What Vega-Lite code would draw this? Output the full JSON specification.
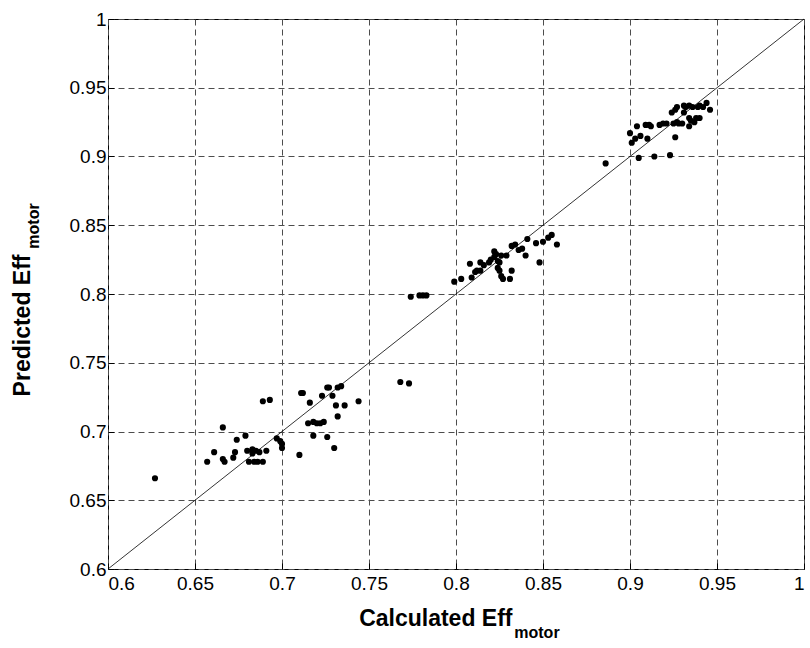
{
  "$schema": "https://vega.github.io/schema/vega-lite/v6.json",
  "autosize": "none",
  "width": 696,
  "height": 550,
  "padding": {"left": 108, "top": 19, "right": 6, "bottom": 79},
  "background": "white",
  "config": {
    "view": {"stroke": "black", "strokeWidth": 1},
    "axis": {
      "grid": true,
      "gridColor": "#4d4d4d",
      "gridDash": [6, 4],
      "gridWidth": 1,
      "gridOpacity": 1,
      "domain": false,
      "ticks": true,
      "tickSize": -6,
      "tickColor": "black",
      "tickWidth": 1,
      "labelFont": "Liberation Sans",
      "labelFontSize": 19,
      "labelColor": "black",
      "titleFont": "Liberation Sans",
      "titleFontSize": 23,
      "titleFontWeight": "bold",
      "titleColor": "black"
    }
  },
  "layer": [
    {
      "data": {"values": [{"calc": 0.6, "pred": 0.6}, {"calc": 1.0, "pred": 1.0}]},
      "mark": {"type": "line", "color": "black", "strokeWidth": 0.8},
      "encoding": {
        "x": {
          "field": "calc",
          "type": "quantitative",
          "scale": {"domain": [0.6, 1], "nice": false, "zero": false},
          "axis": {
            "values": [0.6, 0.65, 0.7, 0.75, 0.8, 0.85, 0.9, 0.95, 1],
            "format": "~g",
            "labelPadding": 11,
            "title": "Calculated Eff",
            "titleAlign": "right",
            "titleBaseline": "middle",
            "titleX": 404,
            "titleY": 49
          }
        },
        "y": {
          "field": "pred",
          "type": "quantitative",
          "scale": {"domain": [0.6, 1], "nice": false, "zero": false},
          "axis": {
            "values": [0.6, 0.65, 0.7, 0.75, 0.8, 0.85, 0.9, 0.95, 1],
            "format": "~g",
            "labelPadding": 8,
            "title": "Predicted Eff",
            "titleAngle": 270,
            "titleAlign": "right",
            "titleBaseline": "middle",
            "titleX": -86,
            "titleY": 235
          }
        }
      }
    },
    {
      "data": {
        "values": [
          {"calc": 0.627, "pred": 0.666}, {"calc": 0.657, "pred": 0.678}, {"calc": 0.661, "pred": 0.685},
          {"calc": 0.666, "pred": 0.703}, {"calc": 0.666, "pred": 0.68}, {"calc": 0.667, "pred": 0.678},
          {"calc": 0.672, "pred": 0.681}, {"calc": 0.673, "pred": 0.685}, {"calc": 0.674, "pred": 0.694},
          {"calc": 0.679, "pred": 0.697}, {"calc": 0.68, "pred": 0.686}, {"calc": 0.683, "pred": 0.687},
          {"calc": 0.685, "pred": 0.686}, {"calc": 0.687, "pred": 0.685}, {"calc": 0.691, "pred": 0.686},
          {"calc": 0.681, "pred": 0.678}, {"calc": 0.684, "pred": 0.678}, {"calc": 0.686, "pred": 0.678},
          {"calc": 0.689, "pred": 0.678}, {"calc": 0.683, "pred": 0.684}, {"calc": 0.689, "pred": 0.722},
          {"calc": 0.693, "pred": 0.723}, {"calc": 0.697, "pred": 0.695}, {"calc": 0.699, "pred": 0.693},
          {"calc": 0.7, "pred": 0.688}, {"calc": 0.7, "pred": 0.691}, {"calc": 0.711, "pred": 0.728},
          {"calc": 0.712, "pred": 0.728}, {"calc": 0.716, "pred": 0.721}, {"calc": 0.723, "pred": 0.726},
          {"calc": 0.726, "pred": 0.732}, {"calc": 0.727, "pred": 0.732}, {"calc": 0.729, "pred": 0.726},
          {"calc": 0.732, "pred": 0.732}, {"calc": 0.734, "pred": 0.733}, {"calc": 0.731, "pred": 0.719},
          {"calc": 0.736, "pred": 0.719}, {"calc": 0.732, "pred": 0.711}, {"calc": 0.744, "pred": 0.722},
          {"calc": 0.715, "pred": 0.706}, {"calc": 0.718, "pred": 0.707}, {"calc": 0.72, "pred": 0.706},
          {"calc": 0.722, "pred": 0.706}, {"calc": 0.724, "pred": 0.707}, {"calc": 0.718, "pred": 0.697},
          {"calc": 0.726, "pred": 0.696}, {"calc": 0.73, "pred": 0.688}, {"calc": 0.71, "pred": 0.683},
          {"calc": 0.768, "pred": 0.736}, {"calc": 0.773, "pred": 0.735}, {"calc": 0.774, "pred": 0.798},
          {"calc": 0.779, "pred": 0.799}, {"calc": 0.781, "pred": 0.799}, {"calc": 0.783, "pred": 0.799},
          {"calc": 0.799, "pred": 0.809}, {"calc": 0.803, "pred": 0.811}, {"calc": 0.809, "pred": 0.812},
          {"calc": 0.808, "pred": 0.822}, {"calc": 0.811, "pred": 0.816}, {"calc": 0.812, "pred": 0.817},
          {"calc": 0.814, "pred": 0.817}, {"calc": 0.814, "pred": 0.823}, {"calc": 0.816, "pred": 0.821},
          {"calc": 0.819, "pred": 0.823}, {"calc": 0.82, "pred": 0.825}, {"calc": 0.822, "pred": 0.827},
          {"calc": 0.824, "pred": 0.824}, {"calc": 0.825, "pred": 0.823}, {"calc": 0.824, "pred": 0.819},
          {"calc": 0.825, "pred": 0.817}, {"calc": 0.826, "pred": 0.813}, {"calc": 0.827, "pred": 0.811},
          {"calc": 0.831, "pred": 0.811}, {"calc": 0.832, "pred": 0.817}, {"calc": 0.822, "pred": 0.831},
          {"calc": 0.823, "pred": 0.829}, {"calc": 0.826, "pred": 0.828}, {"calc": 0.829, "pred": 0.828},
          {"calc": 0.832, "pred": 0.835}, {"calc": 0.834, "pred": 0.836}, {"calc": 0.836, "pred": 0.832},
          {"calc": 0.838, "pred": 0.833}, {"calc": 0.841, "pred": 0.84}, {"calc": 0.84, "pred": 0.828},
          {"calc": 0.846, "pred": 0.837}, {"calc": 0.848, "pred": 0.823}, {"calc": 0.85, "pred": 0.838},
          {"calc": 0.853, "pred": 0.841}, {"calc": 0.855, "pred": 0.843}, {"calc": 0.858, "pred": 0.836},
          {"calc": 0.886, "pred": 0.895}, {"calc": 0.905, "pred": 0.899}, {"calc": 0.914, "pred": 0.9},
          {"calc": 0.923, "pred": 0.901}, {"calc": 0.9, "pred": 0.917}, {"calc": 0.901, "pred": 0.91},
          {"calc": 0.903, "pred": 0.913}, {"calc": 0.906, "pred": 0.915}, {"calc": 0.904, "pred": 0.922},
          {"calc": 0.909, "pred": 0.923}, {"calc": 0.911, "pred": 0.923}, {"calc": 0.912, "pred": 0.922},
          {"calc": 0.91, "pred": 0.913}, {"calc": 0.917, "pred": 0.923}, {"calc": 0.919, "pred": 0.924},
          {"calc": 0.921, "pred": 0.924}, {"calc": 0.925, "pred": 0.924}, {"calc": 0.927, "pred": 0.925},
          {"calc": 0.928, "pred": 0.924}, {"calc": 0.93, "pred": 0.924}, {"calc": 0.926, "pred": 0.914},
          {"calc": 0.924, "pred": 0.932}, {"calc": 0.926, "pred": 0.934}, {"calc": 0.927, "pred": 0.936},
          {"calc": 0.931, "pred": 0.937}, {"calc": 0.932, "pred": 0.936}, {"calc": 0.934, "pred": 0.937},
          {"calc": 0.936, "pred": 0.936}, {"calc": 0.939, "pred": 0.936}, {"calc": 0.94, "pred": 0.937},
          {"calc": 0.942, "pred": 0.936}, {"calc": 0.944, "pred": 0.939}, {"calc": 0.946, "pred": 0.934},
          {"calc": 0.931, "pred": 0.932}, {"calc": 0.934, "pred": 0.928}, {"calc": 0.935, "pred": 0.926},
          {"calc": 0.938, "pred": 0.928}, {"calc": 0.94, "pred": 0.928}, {"calc": 0.934, "pred": 0.922},
          {"calc": 0.937, "pred": 0.925}
        ]
      },
      "mark": {"type": "circle", "color": "black", "opacity": 1, "size": 38},
      "encoding": {
        "x": {"field": "calc", "type": "quantitative"},
        "y": {"field": "pred", "type": "quantitative"}
      }
    },
    {
      "data": {"values": [{"label": "motor"}]},
      "mark": {
        "type": "text",
        "font": "Liberation Sans",
        "fontSize": 16,
        "fontWeight": "bold",
        "align": "left",
        "baseline": "middle",
        "dy": 64,
        "clip": false
      },
      "encoding": {
        "text": {"field": "label"},
        "x": {"datum": 0.8335, "type": "quantitative"},
        "y": {"datum": 0.6, "type": "quantitative"}
      }
    },
    {
      "data": {"values": [{"label": "motor"}]},
      "mark": {
        "type": "text",
        "font": "Liberation Sans",
        "fontSize": 16,
        "fontWeight": "bold",
        "align": "left",
        "baseline": "middle",
        "angle": 270,
        "dy": -74,
        "clip": false
      },
      "encoding": {
        "text": {"field": "label"},
        "x": {"datum": 0.6, "type": "quantitative"},
        "y": {"datum": 0.833, "type": "quantitative"}
      }
    }
  ]
}
